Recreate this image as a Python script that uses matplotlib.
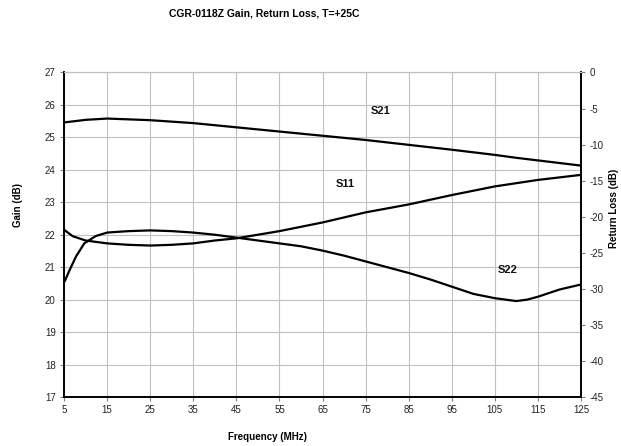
"""Gain and return loss of the CGR-0118Z amplifier at +25C."""
import matplotlib

matplotlib.use("Agg")
import matplotlib.pyplot as plt

plt.rcParams["font.family"] = ["Liberation Sans", "DejaVu Sans"]
plt.rcParams["axes.unicode_minus"] = False

# Gain (left axis, dB)
s21_freq = [5, 10, 15, 25, 35, 45, 55, 65, 75, 85, 95, 105, 110, 115, 120,
            125]
s21_gain = [25.46, 25.54, 25.58, 25.53, 25.44, 25.31, 25.18, 25.05, 24.92,
            24.77, 24.62, 24.46, 24.37, 24.29, 24.21, 24.13]

# Input return loss (right axis, dB)
s11_freq = [5, 7, 10, 15, 20, 25, 30, 35, 40, 45, 50, 55, 60, 65, 70, 75,
            85, 95, 105, 115, 125]
s11_rl = [-21.8, -22.7, -23.3, -23.7, -23.9, -24.0, -23.9, -23.7, -23.3,
          -23.0, -22.5, -22.0, -21.4, -20.8, -20.1, -19.4, -18.3, -17.0,
          -15.8, -14.9, -14.2]

# Output return loss (right axis, dB)
s22_freq = [5.2, 6.3, 7.8, 9.7, 12.3, 15, 20, 25, 30, 35, 40, 45, 50, 55, 60,
            65, 70, 75, 80, 85, 90, 95, 100, 105, 110, 112.5, 115, 120, 125]
s22_rl = [-28.9, -27.4, -25.5, -23.7, -22.7, -22.2, -22.0, -21.9, -22.0,
          -22.2, -22.5, -22.9, -23.3, -23.7, -24.1, -24.7, -25.4, -26.2,
          -27.0, -27.8, -28.7, -29.7, -30.7, -31.3, -31.7, -31.5, -31.1,
          -30.1, -29.4]

freq_ticks = list(range(5, 126, 10))
gain_ticks = list(range(17, 28))
rl_ticks = list(range(-45, 1, 5))

fig = plt.figure(figsize=(6.21, 4.46), dpi=100)
ax = fig.add_axes([0.1031, 0.1099, 0.8325, 0.7276])
ax2 = ax.twinx()

ax.plot(s21_freq, s21_gain, color="black", lw=1.6)
ax2.plot(s11_freq, s11_rl, color="black", lw=1.6)
ax2.plot(s22_freq, s22_rl, color="black", lw=1.6)

ax.set_xlim(5, 125)
ax.set_ylim(17, 27)
ax2.set_ylim(-45, 0)
ax.set_xticks(freq_ticks)
ax.set_yticks(gain_ticks)
ax2.set_yticks(rl_ticks)

ax.grid(True, color="#c0c0c0", lw=0.8)
ax.set_axisbelow(True)
for a in (ax, ax2):
    a.tick_params(labelsize=7, length=3, width=0.8, color="#808080",
                  labelcolor="#222222", pad=3)
    a.spines["top"].set_color("#c0c0c0")
    a.spines["top"].set_linewidth(0.8)
    for side in ("left", "right", "bottom"):
        a.spines[side].set_color("black")
        a.spines[side].set_linewidth(1.2)

text_style = dict(fontsize=8, fontweight="bold", color="#111111")
ax.text(78.5, 25.8, "S21", ha="center", va="center", **text_style)
ax.text(70.2, 23.57, "S11", ha="center", va="center", **text_style)
ax.text(108, 20.9, "S22", ha="center", va="center", **text_style)

fig.text(264 / 621, 1 - 13 / 446, "CGR-0118Z Gain, Return Loss, T=+25C",
         ha="center", va="center", fontsize=7.5, fontweight="bold")
fig.text(268 / 621, 1 - 437 / 446, "Frequency (MHz)", ha="center",
         va="center", fontsize=7, fontweight="bold")
fig.text(18 / 621, 1 - 205 / 446, "Gain (dB)", ha="center", va="center",
         rotation=90, fontsize=7, fontweight="bold")
fig.text(614 / 621, 1 - 208 / 446, "Return Loss (dB)", ha="center",
         va="center", rotation=90, fontsize=7, fontweight="bold")

fig.savefig("out.png", dpi=100)
